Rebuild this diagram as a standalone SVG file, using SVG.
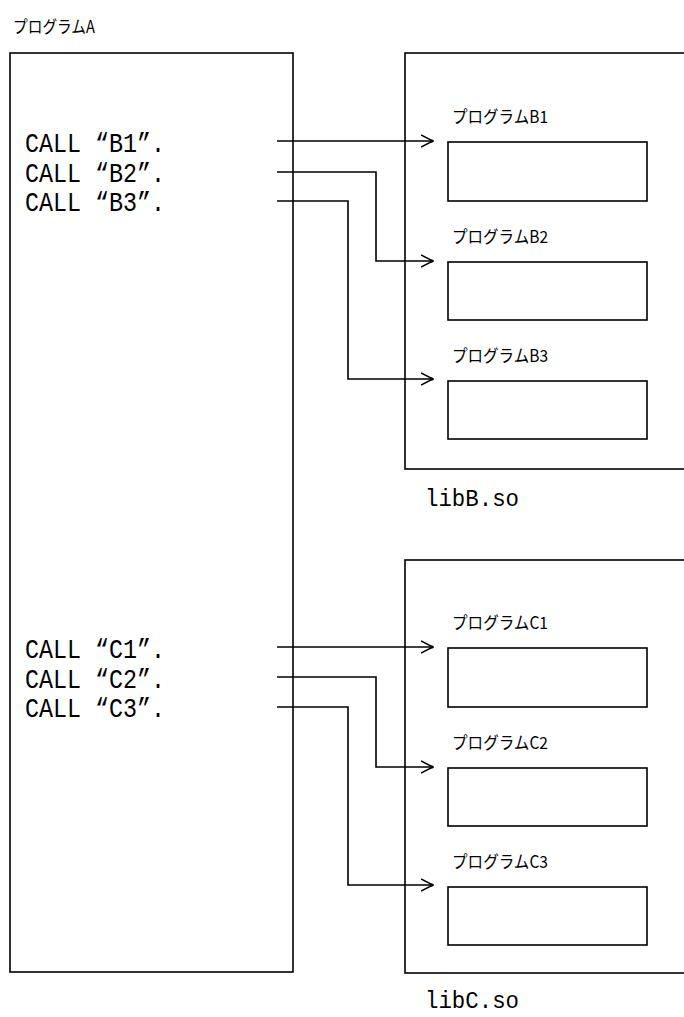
<svg xmlns="http://www.w3.org/2000/svg" width="684" height="1017" viewBox="0 0 684 1017">
<style>
.box{fill:#fff;stroke:#000;stroke-width:1.6}
.code{font-family:"Liberation Mono","DejaVu Sans Mono",monospace;font-size:27px;fill:#000}
.lib{font-family:"Liberation Mono","DejaVu Sans Mono",monospace;font-size:23px;fill:#000}
.lbl{font-family:"Noto Sans CJK JP","Noto Sans",sans-serif;font-size:17px;fill:#000}
.conn{fill:none;stroke:#000;stroke-width:1.6;marker-end:url(#arr)}
</style>
<defs>
<marker id="arr" markerUnits="userSpaceOnUse" viewBox="0 0 13 14" refX="12" refY="7" markerWidth="13" markerHeight="14" orient="auto">
<path d="M0,1 L12,7 L0,13" fill="none" stroke="#000" stroke-width="1.5"/>
<circle cx="11" cy="7" r="1.6" fill="#000"/>
</marker>
</defs>
<rect width="684" height="1017" fill="#fff"/>

<g id="progA">
<text class="lbl" x="13" y="33" textLength="82" lengthAdjust="spacingAndGlyphs">プログラムA</text>
<rect class="box" x="10" y="53" width="283" height="919"/>
<text class="code" x="25" y="152" textLength="140" lengthAdjust="spacingAndGlyphs">CALL “B1”.</text>
<text class="code" x="25" y="182" textLength="140" lengthAdjust="spacingAndGlyphs">CALL “B2”.</text>
<text class="code" x="25" y="211" textLength="140" lengthAdjust="spacingAndGlyphs">CALL “B3”.</text>
<text class="code" x="25" y="658" textLength="140" lengthAdjust="spacingAndGlyphs">CALL “C1”.</text>
<text class="code" x="25" y="688" textLength="140" lengthAdjust="spacingAndGlyphs">CALL “C2”.</text>
<text class="code" x="25" y="717" textLength="140" lengthAdjust="spacingAndGlyphs">CALL “C3”.</text>
</g>

<g id="libB">
<rect class="box" x="405" y="53" width="290" height="416"/>
<text class="lib" x="425" y="506" textLength="94" lengthAdjust="spacingAndGlyphs">libB.so</text>
</g>
<g id="progB1">
<text class="lbl" x="452" y="123" textLength="96" lengthAdjust="spacingAndGlyphs">プログラムB1</text>
<rect class="box" x="448" y="142" width="199" height="59"/>
</g>
<g id="progB2">
<text class="lbl" x="452" y="243" textLength="96" lengthAdjust="spacingAndGlyphs">プログラムB2</text>
<rect class="box" x="448" y="262" width="199" height="58"/>
</g>
<g id="progB3">
<text class="lbl" x="452" y="362" textLength="96" lengthAdjust="spacingAndGlyphs">プログラムB3</text>
<rect class="box" x="448" y="381" width="199" height="58"/>
</g>

<g id="libC">
<rect class="box" x="405" y="560" width="290" height="413"/>
<text class="lib" x="425" y="1008" textLength="94" lengthAdjust="spacingAndGlyphs">libC.so</text>
</g>
<g id="progC1">
<text class="lbl" x="452" y="629" textLength="96" lengthAdjust="spacingAndGlyphs">プログラムC1</text>
<rect class="box" x="448" y="648" width="199" height="59"/>
</g>
<g id="progC2">
<text class="lbl" x="452" y="749" textLength="96" lengthAdjust="spacingAndGlyphs">プログラムC2</text>
<rect class="box" x="448" y="768" width="199" height="58"/>
</g>
<g id="progC3">
<text class="lbl" x="452" y="868" textLength="96" lengthAdjust="spacingAndGlyphs">プログラムC3</text>
<rect class="box" x="448" y="887" width="199" height="58"/>
</g>

<g id="connectors">
<path class="conn" d="M277,141 H433"/>
<path class="conn" d="M277,172 H376 V261 H433"/>
<path class="conn" d="M277,201 H348 V379 H433"/>
<path class="conn" d="M277,647 H433"/>
<path class="conn" d="M277,677 H376 V767 H433"/>
<path class="conn" d="M277,707 H348 V885 H433"/>
</g>
</svg>
